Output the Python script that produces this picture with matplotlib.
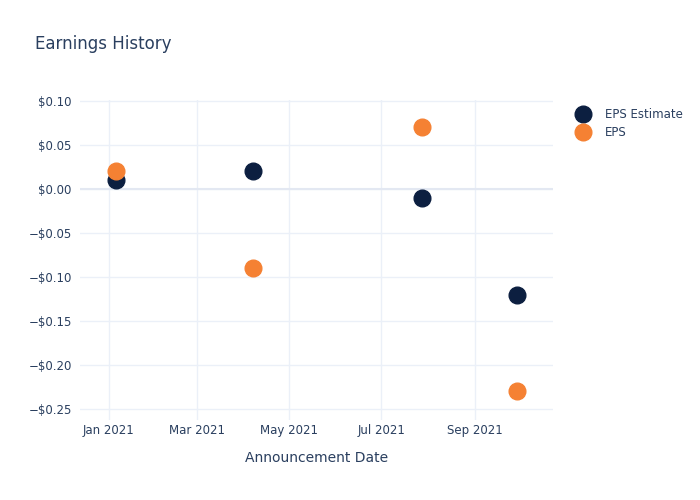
import matplotlib
matplotlib.use("Agg")
import matplotlib.pyplot as plt
import matplotlib.dates as mdates
import numpy as np
import datetime as dt

dates = [dt.date(2021, 1, 6), dt.date(2021, 4, 7), dt.date(2021, 7, 28), dt.date(2021, 9, 29)]
eps_estimate = [0.01, 0.02, -0.01, -0.12]
eps_actual = [0.02, -0.09, 0.07, -0.23]

text_col = "#2a3f5f"
grid_col = "#ebf0f8"

fig = plt.figure(figsize=(7, 5), dpi=100)
ax = fig.add_axes([80 / 700, 80 / 500, 473 / 700, 320 / 500])

ax.plot(dates, eps_estimate, "o", color="#0c1f40", markersize=12, label="EPS Estimate", zorder=3)
ax.plot(dates, eps_actual, "o", color="#f58133", markersize=12, label="EPS", zorder=4)

ax.set_xlim(dt.date(2020, 12, 13), dt.date(2021, 10, 23))
ax.set_ylim(-0.2625, 0.101)

ax.xaxis.set_major_locator(mdates.MonthLocator(bymonth=[1, 3, 5, 7, 9]))
ax.xaxis.set_major_formatter(mdates.DateFormatter("%b %Y"))
yt = np.arange(-0.25, 0.101, 0.05)
ax.set_yticks(yt)
ax.set_yticklabels([("\u2212$%.2f" % abs(v)) if v < -1e-9 else "$%.2f" % abs(v) for v in yt])

ax.grid(True, color=grid_col, linewidth=1)
ax.axhline(0, color="#e3e8f2", linewidth=1.5, zorder=1)
ax.set_axisbelow(True)
for s in ax.spines.values():
    s.set_visible(False)
ax.tick_params(length=0, labelsize=8.5, colors=text_col)
ax.tick_params(axis="x", pad=3)
ax.tick_params(axis="y", pad=6)

ax.set_xlabel("Announcement Date", fontsize=10, color=text_col, labelpad=10)
fig.text(35 / 700, 1 - 44 / 500, "Earnings History", fontsize=12, color=text_col, va="center")

ax.legend(loc="upper left", bbox_to_anchor=(1.038, 0.99), frameon=False, fontsize=8.5,
          labelcolor=text_col, handletextpad=1.25, borderaxespad=0, labelspacing=0.45,
          handlelength=1.2)

fig.savefig("out.png", dpi=100)
